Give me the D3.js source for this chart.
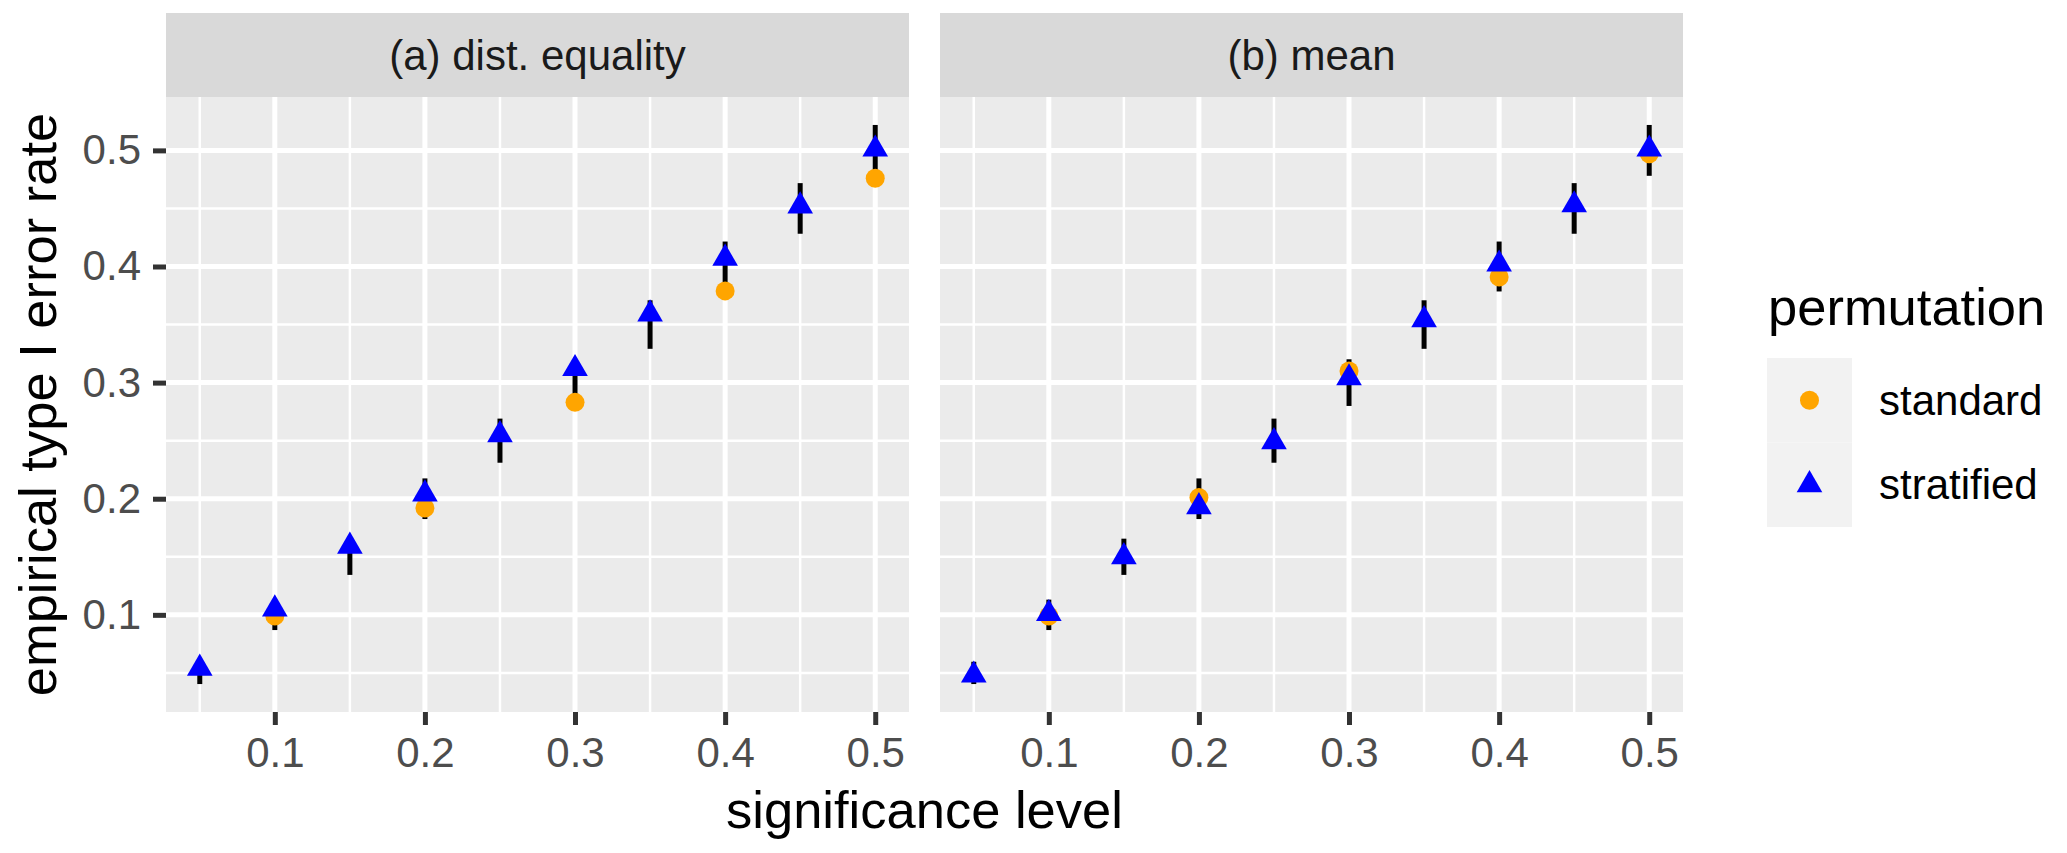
<!DOCTYPE html>
<html>
<head>
<meta charset="utf-8">
<script src="https://cdn.jsdelivr.net/npm/d3@7/dist/d3.min.js"></script>
<style>
  html, body { margin: 0; padding: 0; background: #ffffff; }
  svg { display: block; }
  text { font-family: "Liberation Sans", Arial, Helvetica, sans-serif; }
</style>
</head>
<body>
<svg id="chart" width="2067" height="853"></svg>
<script>
// ---------------- data ----------------
const alphas = [0.05, 0.10, 0.15, 0.20, 0.25, 0.30, 0.35, 0.40, 0.45, 0.50];
const panelTitles = ["(a) dist. equality", "(b) mean"];
const seriesNames = ["standard", "stratified"];

// panel (a) dist. equality  (standard only evaluated at 0.1, 0.2, ..., 0.5)
const standardA   = [null, 0.099, null, 0.192, null, 0.283, null, 0.379, null, 0.476];
const stratifiedA = [0.054, 0.105, 0.159, 0.204, 0.255, 0.312, 0.359, 0.407, 0.452, 0.501];
// panel (b) mean
const standardB   = [null, 0.099, null, 0.201, null, 0.310, null, 0.391, null, 0.497];
const stratifiedB = [0.048, 0.101, 0.150, 0.193, 0.249, 0.304, 0.354, 0.402, 0.453, 0.501];

// error bars (same in both panels)
const ciLower = [0.0404, 0.0869, 0.1344, 0.1825, 0.2310, 0.2799, 0.3291, 0.3785, 0.4282, 0.4781];
const ciUpper = [0.0596, 0.1131, 0.1656, 0.2175, 0.2690, 0.3201, 0.3709, 0.4215, 0.4718, 0.5219];

const xTicks = [0.1, 0.2, 0.3, 0.4, 0.5];
const xMinor = [0.05, 0.15, 0.25, 0.35, 0.45];
const yTicks = [0.1, 0.2, 0.3, 0.4, 0.5];
const yMinor = [0.05, 0.15, 0.25, 0.35, 0.45];

const xTitle = "significance level";
const yTitle = "empirical type I error rate";
const legendTitle = "permutation";

// ---------------- layout ----------------
const svg = d3.select("#chart");
const W = 2067, H = 853;
svg.append("rect").attr("width", W).attr("height", H).attr("fill", "#ffffff");

const plotTop = 97, plotBottom = 712, stripTop = 13;
const panelX = [[166, 909], [940, 1683]];

const colStd = "#FFA500", colStr = "#0000FF";
const tickFont = 42, titleFont = 52.5;

// scales with ggplot-like 5% expansion
function expand(ext) { const d = ext[1] - ext[0]; return [ext[0] - 0.05 * d, ext[1] + 0.05 * d]; }
const xDom = expand(d3.extent(alphas));
const allY = [].concat(standardA, stratifiedA, standardB, stratifiedB, ciLower, ciUpper).filter(v => v != null);
const yDom = expand(d3.extent(allY));
const y = d3.scaleLinear().domain(yDom).range([plotBottom, plotTop]);

const panels = [
  { title: panelTitles[0], std: standardA, str: stratifiedA },
  { title: panelTitles[1], std: standardB, str: stratifiedB }
];

const triR = 14.8;
const triPath = `M0,${-triR}L${triR*0.866},${triR/2}L${-triR*0.866},${triR/2}Z`;

panels.forEach((p, i) => {
  const [x0, x1] = panelX[i];
  const x = d3.scaleLinear().domain(xDom).range([x0, x1]);
  const g = svg.append("g");

  // strip
  g.append("rect").attr("x", x0).attr("y", stripTop).attr("width", x1 - x0)
    .attr("height", plotTop - stripTop).attr("fill", "#d9d9d9");
  g.append("text").attr("x", (x0 + x1) / 2).attr("y", (stripTop + plotTop) / 2)
    .attr("dy", "0.35em").attr("text-anchor", "middle")
    .attr("font-size", tickFont).attr("fill", "#1a1a1a").text(p.title);

  // panel background
  g.append("rect").attr("x", x0).attr("y", plotTop).attr("width", x1 - x0)
    .attr("height", plotBottom - plotTop).attr("fill", "#ebebeb");

  // minor grid
  g.selectAll(".ymin").data(yMinor).enter().append("line")
    .attr("x1", x0).attr("x2", x1).attr("y1", d => y(d)).attr("y2", d => y(d))
    .attr("stroke", "#ffffff").attr("stroke-width", 2.5);
  g.selectAll(".xmin").data(xMinor).enter().append("line")
    .attr("y1", plotTop).attr("y2", plotBottom).attr("x1", d => x(d)).attr("x2", d => x(d))
    .attr("stroke", "#ffffff").attr("stroke-width", 2.5);
  // major grid
  g.selectAll(".ymaj").data(yTicks).enter().append("line")
    .attr("x1", x0).attr("x2", x1).attr("y1", d => y(d)).attr("y2", d => y(d))
    .attr("stroke", "#ffffff").attr("stroke-width", 5);
  g.selectAll(".xmaj").data(xTicks).enter().append("line")
    .attr("y1", plotTop).attr("y2", plotBottom).attr("x1", d => x(d)).attr("x2", d => x(d))
    .attr("stroke", "#ffffff").attr("stroke-width", 5);

  // x axis
  const xAxis = d3.axisBottom(x).tickValues(xTicks).tickSize(13).tickPadding(12)
    .tickFormat(d3.format(".1f"));
  const ax = g.append("g").attr("transform", `translate(0,${plotBottom})`).call(xAxis);
  ax.select(".domain").remove();
  ax.selectAll(".tick line").attr("stroke", "#333333").attr("stroke-width", 5);
  ax.selectAll(".tick text").attr("font-size", tickFont).attr("fill", "#4d4d4d")
    .attr("font-family", "Liberation Sans, Arial, sans-serif");

  // y axis (left panel only)
  if (i === 0) {
    const yAxis = d3.axisLeft(y).tickValues(yTicks).tickSize(13).tickPadding(12)
      .tickFormat(d3.format(".1f"));
    const ay = g.append("g").attr("transform", `translate(${x0},0)`).call(yAxis);
    ay.select(".domain").remove();
    ay.selectAll(".tick line").attr("stroke", "#333333").attr("stroke-width", 5);
    ay.selectAll(".tick text").attr("font-size", tickFont).attr("fill", "#4d4d4d")
      .attr("font-family", "Liberation Sans, Arial, sans-serif");
  }

  // error bars
  g.selectAll(".err").data(alphas).enter().append("line")
    .attr("x1", d => x(d)).attr("x2", d => x(d))
    .attr("y1", (d, k) => y(ciLower[k])).attr("y2", (d, k) => y(ciUpper[k]))
    .attr("stroke", "#000000").attr("stroke-width", 5);

  // standard points
  const stdPts = alphas.map((a, k) => ({ a, v: p.std[k] })).filter(d => d.v != null);
  g.selectAll(".std").data(stdPts).enter().append("circle")
    .attr("cx", d => x(d.a)).attr("cy", d => y(d.v)).attr("r", 9.5)
    .attr("fill", colStd);
  // stratified points
  g.selectAll(".str").data(alphas).enter().append("path")
    .attr("d", triPath)
    .attr("transform", (d, k) => `translate(${x(d)},${y(p.str[k])})`)
    .attr("fill", colStr);
});

// axis titles
svg.append("text").attr("x", (panelX[0][0] + panelX[1][1]) / 2).attr("y", 828)
  .attr("text-anchor", "middle").attr("font-size", titleFont).attr("fill", "#000")
  .text(xTitle);
svg.append("text")
  .attr("transform", `translate(56,${(plotTop + plotBottom) / 2}) rotate(-90)`)
  .attr("text-anchor", "middle").attr("font-size", titleFont).attr("fill", "#000")
  .text(yTitle);

// legend
const lg = svg.append("g");
const keyX = 1767, keyY = 358, keyW = 85, keyH = 84.5;
lg.append("text").attr("x", 1768).attr("y", 325).attr("font-size", titleFont)
  .attr("fill", "#000").text(legendTitle);
seriesNames.forEach((name, k) => {
  const cy = keyY + keyH * k + keyH / 2;
  lg.append("rect").attr("x", keyX).attr("y", keyY + keyH * k).attr("width", keyW)
    .attr("height", keyH).attr("fill", "#f2f2f2");
  if (k === 0) {
    lg.append("circle").attr("cx", keyX + keyW / 2).attr("cy", cy).attr("r", 9.5).attr("fill", colStd);
  } else {
    lg.append("path").attr("d", triPath)
      .attr("transform", `translate(${keyX + keyW / 2},${cy})`).attr("fill", colStr);
  }
  lg.append("text").attr("x", 1879).attr("y", cy).attr("dy", "0.35em")
    .attr("font-size", tickFont).attr("fill", "#000").text(name);
});
</script>
</body>
</html>
